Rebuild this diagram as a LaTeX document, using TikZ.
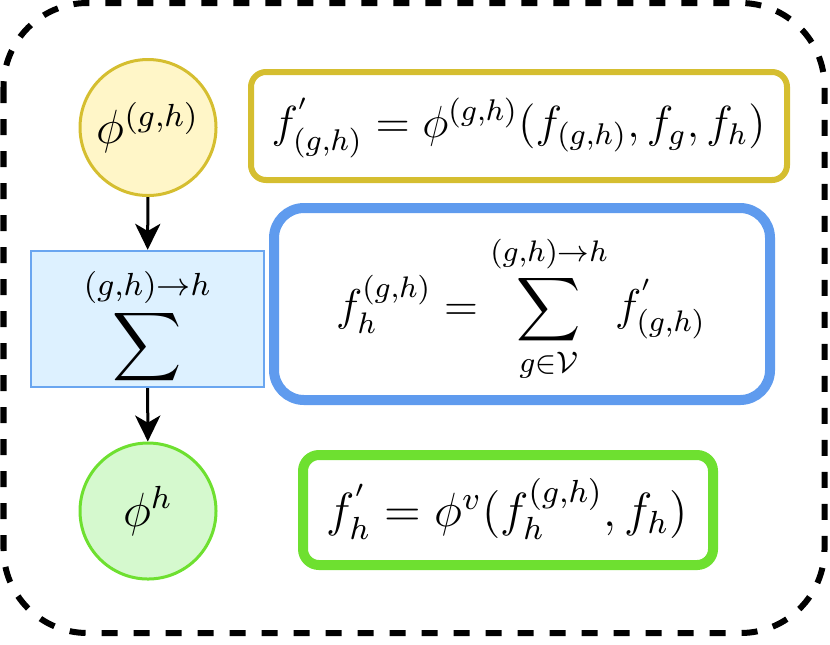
\documentclass[tikz,border=0pt]{standalone}
\usepackage{amsmath}
\usepackage{exscale}
\usepackage{graphicx}
\usetikzlibrary{arrows.meta}
\definecolor{yelline}{HTML}{D5BE30}
\definecolor{yelfill}{HTML}{FFF6C8}
\definecolor{bluline}{HTML}{5F9BEE}
\definecolor{blufill}{HTML}{DDF1FF}
\definecolor{blusoft}{HTML}{6AA6F0}
\definecolor{grnline}{HTML}{6EE030}
\definecolor{grnfill}{HTML}{D5F9CE}
\tikzset{
  opcircle/.style={circle, inner sep=0pt, minimum size=34pt, line width=0.75pt},
  eqbox/.style={rectangle, inner sep=0pt},
  flow/.style={line width=0.75pt, -{Stealth[length=6.5pt, width=6.3pt, inset=1.8pt]}},
}
\begin{document}
\begin{tikzpicture}[x=0.25pt, y=-0.25pt, font=\fontsize{12}{14.4}\selectfont]
\useasboundingbox (0,0) rectangle (830,644);
\draw[line width=1.5pt, dash pattern=on 4pt off 4pt, rounded corners=21pt] (3.5,3) rectangle (824.5,633);

\node[opcircle, draw=yelline, fill=yelfill] (yc) at (148,127.5) {$\phi^{(g,h)}$};
\node[rectangle, draw=blusoft, fill=blufill, line width=0.6pt, minimum width=58.25pt, minimum height=34pt, inner sep=0pt] (sb) at (147.5,319) {};
\node (st) at (147,326) {$\displaystyle\sum^{(g,h)\to h}$};
\node[opcircle, draw=grnline, fill=grnfill] (gc) at (148,511) {$\phi^{h}$};

\draw[flow] (yc) -- (sb);
\draw[flow] (sb) -- (gc);

\node[eqbox, draw=yelline, line width=1.5pt, rounded corners=3.75pt, minimum width=134pt, minimum height=27pt] (yb) at (519,126) {};
\node[inner sep=0pt] (yt) at (518.5,128) {\resizebox{123.5pt}{!}{$f^{'}_{(g,h)} = \phi^{(g,h)}(f_{(g,h)}, f_g, f_h)$}};
\node[eqbox, draw=bluline, line width=2.5pt, rounded corners=7.5pt, minimum width=124pt, minimum height=48pt] (bb) at (522,304) {};
\node[inner sep=0pt] (bt) at (521,309) {\resizebox{92.5pt}{!}{$f_h^{(g,h)} = \displaystyle\sum_{g\in\mathcal{V}}^{(g,h)\to h} f^{'}_{(g,h)}$}};
\node[eqbox, draw=grnline, line width=2.5pt, rounded corners=4pt, minimum width=102.5pt, minimum height=27.5pt] (gb) at (508,510) {};
\node (gt) at (507,509) {$f^{'}_h = \phi^v(f_h^{(g,h)}, f_h)$};
\end{tikzpicture}
\end{document}
